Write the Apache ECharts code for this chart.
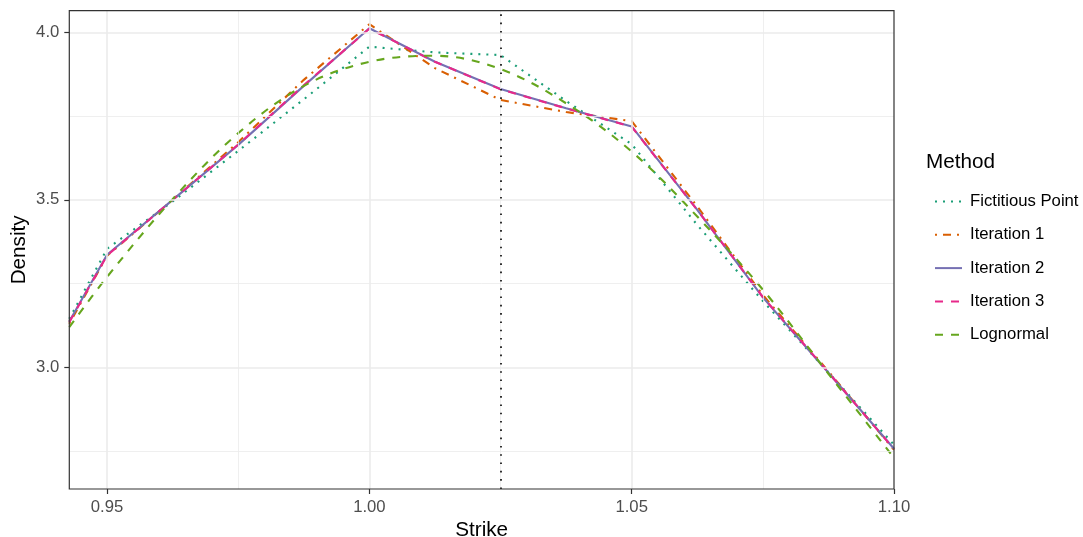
<!DOCTYPE html>
<html><head><meta charset="utf-8">
<script src="https://cdn.jsdelivr.net/npm/echarts@6/dist/echarts.min.js"></script>
<style>html,body{margin:0;padding:0;background:#fff}#c{width:1083px;height:537px}</style>
</head><body><div id="c"></div>
<script>
// ---- data ----
const strikes      = [0.9428, 0.95, 0.9625, 0.975, 0.9875, 1.00, 1.0125, 1.025, 1.0375, 1.05, 1.0625, 1.075, 1.0875, 1.10];
const fictitious   = [3.145, 3.354, 3.495, 3.646, 3.800, 3.957, 3.940, 3.932, 3.795, 3.666, 3.425, 3.198, 2.985, 2.769];
const iteration1   = [3.130, 3.333, 3.500, 3.672, 3.858, 4.024, 3.893, 3.798, 3.762, 3.735, 3.480, 3.216, 2.988, 2.754];
const iteration2   = [3.137, 3.336, 3.500, 3.664, 3.840, 4.012, 3.912, 3.831, 3.773, 3.719, 3.470, 3.209, 2.984, 2.757];
const iteration3   = [3.135, 3.334, 3.500, 3.665, 3.842, 4.011, 3.912, 3.830, 3.773, 3.718, 3.470, 3.210, 2.985, 2.756];
const lognormal    = [3.120, 3.270, 3.502, 3.699, 3.840, 3.912, 3.930, 3.890, 3.788, 3.644, 3.450, 3.232, 2.981, 2.730];
const methodNames  = ['Fictitious Point', 'Iteration 1', 'Iteration 2', 'Iteration 3', 'Lognormal'];
const xTicks = [0.95, 1.00, 1.05, 1.10];
const xMinor = [0.975, 1.025, 1.075];
const yTicks = [3.0, 3.5, 4.0];
const yMinor = [2.75, 3.25, 3.75];
const xRange = [0.9428, 1.10];
const yRange = [2.637, 4.0644];
const forwardStrike = 1.025;

const pairs = v => strikes.map((s, i) => [s, v[i]]);
const FONT = 'Liberation Sans';

const gridLines = [];
xTicks.filter(v => v > xRange[0] && v < xRange[1]).forEach(v => gridLines.push({xAxis: v, lineStyle: {color: '#EBEBEB', width: 1.6, type: 'solid'}}));
xMinor.forEach(v => gridLines.push({xAxis: v, lineStyle: {color: '#EBEBEB', width: 0.8, type: 'solid'}}));
yTicks.filter(v => v > yRange[0] && v < yRange[1]).forEach(v => gridLines.push({yAxis: v, lineStyle: {color: '#EBEBEB', width: 1.6, type: 'solid'}}));
yMinor.forEach(v => gridLines.push({yAxis: v, lineStyle: {color: '#EBEBEB', width: 0.8, type: 'solid'}}));

const mk = (name, data, color, type, extra) => Object.assign({
  name, type: 'line', data: pairs(data), symbol: 'none', showSymbol: false, z: 3,
  lineStyle: {color, width: 2.1, type, cap: 'butt'}, itemStyle: {color},
  emphasis: {disabled: true}
}, extra || {});

const chart = echarts.init(document.getElementById('c'), null, {renderer: 'canvas'});
chart.setOption({
  animation: false,
  backgroundColor: '#ffffff',
  textStyle: {fontFamily: FONT},
  title: {text: 'Method', left: 926, top: 152, padding: 0,
    textStyle: {fontFamily: FONT, fontSize: 20.7, fontWeight: 'normal', color: '#000'}},
  legend: {
    data: methodNames, orient: 'vertical', left: 929, top: 188,
    itemWidth: 27, itemHeight: 18, itemGap: 16.3,
    itemStyle: {opacity: 0},
    textStyle: {fontFamily: FONT, fontSize: 16.7, color: '#000', padding: [0, 0, 0, 3]}
  },
  grid: {left: 69.3, right: 189, top: 10.7, bottom: 48, show: true, z: 10, outerBoundsMode: 'none',
    containLabel: false,
    backgroundColor: 'transparent', borderColor: '#333333', borderWidth: 1.2},
  xAxis: {
    type: 'value', min: xRange[0], max: xRange[1],
    name: 'Strike', nameLocation: 'middle', nameGap: 31, nameMoveOverlap: false,
    nameTextStyle: {fontFamily: FONT, fontSize: 20.7, color: '#000'},
    axisLine: {show: false},
    axisTick: {show: true, customValues: xTicks, length: 5, lineStyle: {color: '#333333', width: 1.2}},
    axisLabel: {customValues: xTicks, margin: 10, fontSize: 16.7, color: '#4D4D4D', fontFamily: FONT,
      formatter: v => v.toFixed(2)},
    splitLine: {show: false}
  },
  yAxis: {
    type: 'value', min: yRange[0], max: yRange[1],
    name: 'Density', nameLocation: 'middle', nameGap: 40, nameMoveOverlap: false,
    nameTextStyle: {fontFamily: FONT, fontSize: 20.7, color: '#000'},
    axisLine: {show: false},
    axisTick: {show: true, customValues: yTicks, length: 5, lineStyle: {color: '#333333', width: 1.2}},
    axisLabel: {customValues: yTicks, margin: 10, fontSize: 16.7, color: '#4D4D4D', fontFamily: FONT,
      formatter: v => v.toFixed(1)},
    splitLine: {show: false}
  },
  series: [
    {name: '_grid', type: 'line', data: [], z: 1, silent: true,
      markLine: {silent: true, precision: 6, symbol: ['none', 'none'], label: {show: false}, animation: false, data: gridLines}},
    mk('Fictitious Point', fictitious, '#1B9E77', [2, 6]),
    mk('Iteration 1', iteration1, '#D95F02', [2, 6, 8, 6]),
    mk('Iteration 2', iteration2, '#7570B3', 'solid'),
    mk('Iteration 3', iteration3, '#E7298A', [8, 8]),
    mk('Lognormal', lognormal, '#66A61E', [8, 8], {smooth: 0.35}),
    {name: '_forward', type: 'line', data: [], z: 5, silent: true,
      markLine: {silent: true, precision: 6, symbol: ['none', 'none'], label: {show: false}, animation: false,
        data: [{xAxis: forwardStrike, lineStyle: {color: '#000', width: 1.6, type: [1.6, 6.7]}}]}}
  ]
});
</script></body></html>
